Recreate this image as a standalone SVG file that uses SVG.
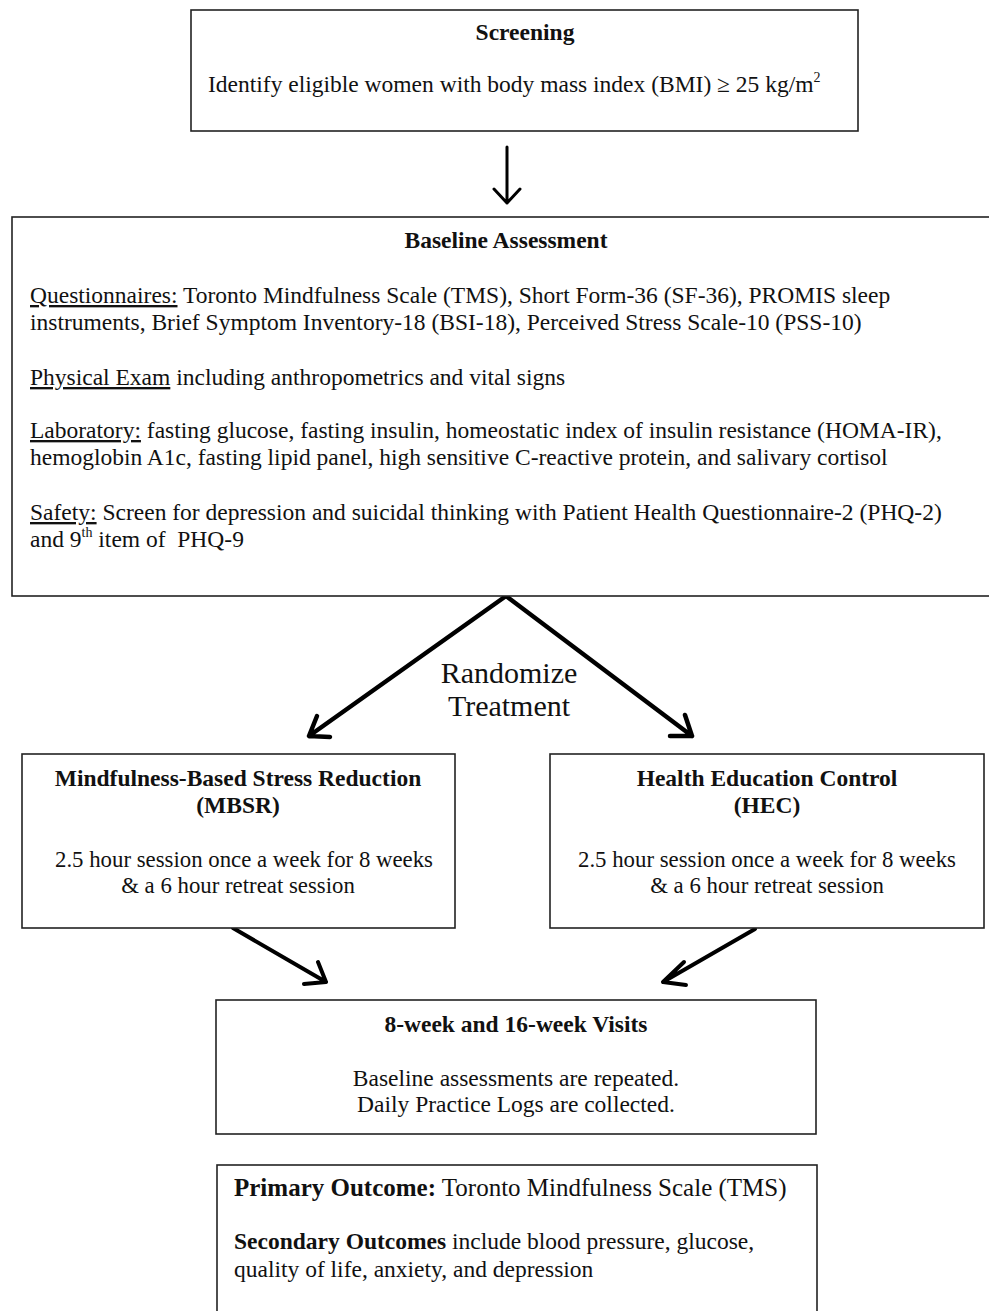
<svg xmlns="http://www.w3.org/2000/svg" width="989" height="1311" viewBox="0 0 989 1311">
<style>
.box{fill:#fff;stroke:#222;stroke-width:1.6}
text{font-family:"Liberation Serif","Times New Roman",serif;font-size:23.5px;fill:#111}
.t{font-weight:bold;text-anchor:middle}
.c{text-anchor:middle}
.s{font-size:22.8px}
.sup{font-size:14px}
.p{font-size:25px}
.u{text-decoration:underline}
.b{font-weight:bold}
.big{font-size:30px;text-anchor:middle}
.arr{fill:none;stroke:#000;stroke-linecap:round;stroke-linejoin:round}
</style>
<rect width="989" height="1311" fill="#fff"/>
<g id="connectors">
  <path class="arr" stroke-width="3" d="M507,147 L507,203 M494,189 L507,203 L520,189"/>
  <path class="arr" stroke-width="4.5" d="M506,596 L309,736 M317,716 L309,736 L330,737"/>
  <path class="arr" stroke-width="4.5" d="M506,596 L692,736 M685,715 L692,736 L670,736"/>
  <path class="arr" stroke-width="4" d="M233,928 L326,982 M318,962 L326,982 L304,984"/>
  <path class="arr" stroke-width="4" d="M755,929 L663,982 M684,962 L663,982 L686,985"/>
</g>
<g id="screening">
  <rect class="box" x="191" y="10" width="667" height="121"/>
  <text class="t" x="525" y="40">Screening</text>
  <text x="208" y="92">Identify eligible women with body mass index (BMI) ≥ 25 kg/m<tspan class="sup" dy="-10">2</tspan></text>
</g>
<g id="baseline">
  <rect class="box" x="12" y="217" width="990" height="379"/>
  <text class="t" x="506" y="248">Baseline Assessment</text>
  <text x="30" y="303"><tspan class="u">Questionnaires:</tspan> Toronto Mindfulness Scale (TMS), Short Form-36 (SF-36), PROMIS sleep</text>
  <text x="30" y="330">instruments, Brief Symptom Inventory-18 (BSI-18), Perceived Stress Scale-10 (PSS-10)</text>
  <text x="30" y="385"><tspan class="u">Physical Exam</tspan> including anthropometrics and vital signs</text>
  <text x="30" y="438"><tspan class="u">Laboratory:</tspan> fasting glucose, fasting insulin, homeostatic index of insulin resistance (HOMA-IR),</text>
  <text x="30" y="465">hemoglobin A1c, fasting lipid panel, high sensitive C-reactive protein, and salivary cortisol</text>
  <text x="30" y="520"><tspan class="u">Safety:</tspan> Screen for depression and suicidal thinking with Patient Health Questionnaire-2 (PHQ-2)</text>
  <text x="30" y="547">and 9<tspan class="sup" dy="-10">th</tspan><tspan dy="10"> item of&#160; PHQ-9</tspan></text>
</g>
<g id="randomize">
  <text class="big" x="509" y="683">Randomize</text>
  <text class="big" x="509" y="716">Treatment</text>
</g>
<g id="mbsr">
  <rect class="box" x="22" y="754" width="433" height="174"/>
  <text class="t" x="238" y="786">Mindfulness-Based Stress Reduction</text>
  <text class="t" x="238" y="813">(MBSR)</text>
  <text class="c s" x="244" y="867">2.5 hour session once a week for 8 weeks</text>
  <text class="c s" x="238" y="893">&amp; a 6 hour retreat session</text>
</g>
<g id="hec">
  <rect class="box" x="550" y="754" width="434" height="174"/>
  <text class="t" x="767" y="786">Health Education Control</text>
  <text class="t" x="767" y="813">(HEC)</text>
  <text class="c s" x="767" y="867">2.5 hour session once a week for 8 weeks</text>
  <text class="c s" x="767" y="893">&amp; a 6 hour retreat session</text>
</g>
<g id="visits">
  <rect class="box" x="216" y="1000" width="600" height="134"/>
  <text class="t" x="516" y="1032">8-week and 16-week Visits</text>
  <text class="c" x="516" y="1086">Baseline assessments are repeated.</text>
  <text class="c" x="516" y="1112">Daily Practice Logs are collected.</text>
</g>
<g id="outcomes">
  <rect class="box" x="217" y="1165" width="600" height="160"/>
  <text class="p" x="234" y="1196"><tspan class="b">Primary Outcome:</tspan> Toronto Mindfulness Scale (TMS)</text>
  <text x="234" y="1249"><tspan class="b">Secondary Outcomes</tspan> include blood pressure, glucose,</text>
  <text x="234" y="1277">quality of life, anxiety, and depression</text>
</g>
</svg>
